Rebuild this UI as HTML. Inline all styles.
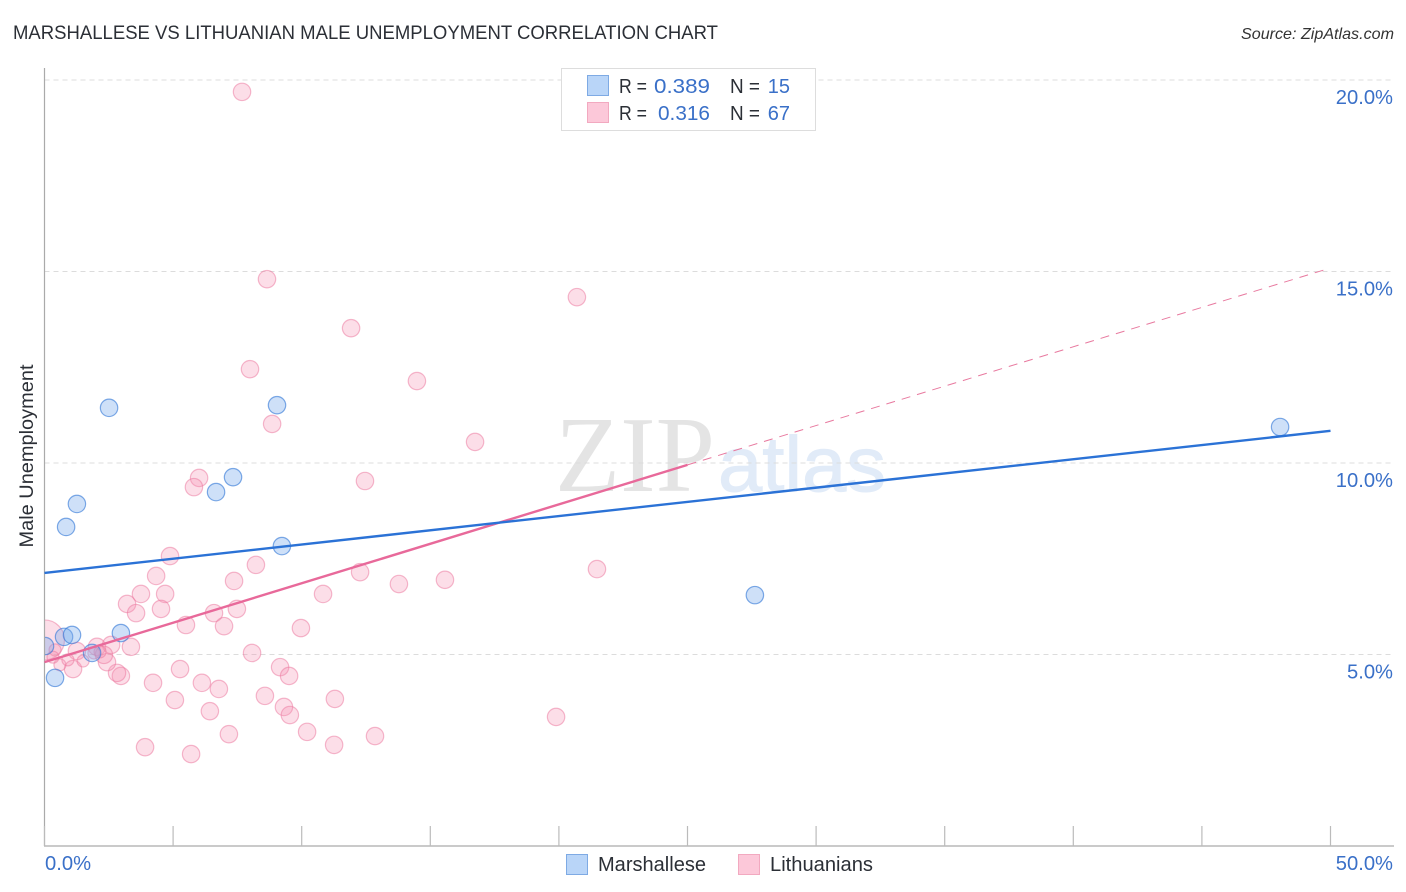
<!DOCTYPE html>
<html lang="en">
<head>
<meta charset="utf-8">
<title>Marshallese vs Lithuanian Male Unemployment Correlation Chart</title>
<style>
html,body{margin:0;padding:0;background:#fff;}
body{width:1406px;height:892px;overflow:hidden;}
svg{display:block;}
text{font-family:"Liberation Sans",sans-serif;}
</style>
</head>
<body>
<svg id="chart" width="1406" height="892" viewBox="0 0 1406 892" xmlns="http://www.w3.org/2000/svg">
  <text x="13" y="39" font-size="19" fill="#2b2f36" textLength="705" lengthAdjust="spacingAndGlyphs">MARSHALLESE VS LITHUANIAN MALE UNEMPLOYMENT CORRELATION CHART</text>
  <text x="1394" y="39" font-size="16" font-style="italic" fill="#333" text-anchor="end" textLength="153" lengthAdjust="spacingAndGlyphs">Source: ZipAtlas.com</text>

  <g>
    <text x="555" y="491" font-size="108" fill="#e4e4e4" textLength="160" lengthAdjust="spacingAndGlyphs" style="font-family:'Liberation Serif',serif">ZIP</text>
    <text x="718" y="491" font-size="78" fill="#e1ebf8" stroke="#e1ebf8" stroke-width="1" textLength="168" lengthAdjust="spacingAndGlyphs">atlas</text>
  </g>

  <g id="grid"></g>
  <g id="pink-points"></g>
  <g id="blue-points"></g>
  <rect x="0" y="60" width="44.5" height="786" fill="#ffffff"/>
  <g id="axes"></g>
  <g id="trends"></g>
  <g id="labels"></g>

  <text transform="translate(33,456) rotate(-90)" font-size="19" fill="#2b2f36" text-anchor="middle" textLength="183" lengthAdjust="spacingAndGlyphs">Male Unemployment</text>

  <g>
    <rect x="561.5" y="68.5" width="254" height="62" fill="#fff" stroke="#dddddd" stroke-width="1"/>
    <rect x="587.5" y="75.5" width="21" height="20" fill="#b9d5f8" stroke="#7eaae4" stroke-width="1"/>
    <rect x="587.5" y="102.5" width="21" height="20" fill="#fcc8d9" stroke="#f2a9c0" stroke-width="1"/>
    <g font-size="20">
      <text x="619" y="93" fill="#2b2f36" textLength="28" lengthAdjust="spacingAndGlyphs">R =</text>
      <text x="654" y="93" fill="#3a70c8" textLength="56" lengthAdjust="spacingAndGlyphs">0.389</text>
      <text x="730" y="93" fill="#2b2f36" textLength="30" lengthAdjust="spacingAndGlyphs">N =</text>
      <text x="790" y="93" fill="#3a70c8" text-anchor="end">15</text>
      <text x="619" y="120" fill="#2b2f36" textLength="28" lengthAdjust="spacingAndGlyphs">R =</text>
      <text x="658" y="120" fill="#3a70c8" textLength="52" lengthAdjust="spacingAndGlyphs">0.316</text>
      <text x="730" y="120" fill="#2b2f36" textLength="30" lengthAdjust="spacingAndGlyphs">N =</text>
      <text x="790" y="120" fill="#3a70c8" text-anchor="end">67</text>
    </g>
  </g>

  <g>
    <rect x="566.5" y="854.5" width="21" height="20" fill="#b9d5f8" stroke="#7eaae4" stroke-width="1"/>
    <text x="598" y="871" font-size="20" fill="#2b2f36" textLength="108" lengthAdjust="spacingAndGlyphs">Marshallese</text>
    <rect x="738.5" y="854.5" width="21" height="20" fill="#fcc8d9" stroke="#f2a9c0" stroke-width="1"/>
    <text x="770" y="871" font-size="20" fill="#2b2f36" textLength="103" lengthAdjust="spacingAndGlyphs">Lithuanians</text>
  </g>
</svg>
<script>
// Data values (percent)
const marshalleseX = [0.02,0.76,1.07,0.41,1.85,2.97,2.51,1.26,0.84,6.67,7.33,9.04,9.23,27.62,48.04];
const marshalleseY = [5.22,5.46,5.51,4.39,5.04,5.56,11.44,8.93,8.33,9.24,9.63,11.51,7.83,6.55,10.94];
const lithuaniansX = [0.0,7.68,8.65,20.70,11.92,7.99,14.48,8.85,16.74,12.46,6.01,5.81,4.88,8.22,21.48,12.27,4.34,7.37,13.78,15.57,3.75,4.69,10.83,3.21,3.56,4.53,6.59,7.48,5.50,6.98,9.97,8.07,3.36,5.27,4.22,5.07,6.12,6.78,6.43,7.17,3.91,5.70,8.57,9.16,9.51,9.31,9.54,10.21,11.26,11.29,12.85,19.89,2.97,2.82,2.43,2.04,2.59,2.31,1.26,1.11,0.60,1.50,0.91,0.41,1.92,2.16,0.33];
const lithuaniansY = [5.38,19.69,14.80,14.33,13.52,12.45,12.14,11.02,10.55,9.53,9.61,9.37,7.57,7.34,7.23,7.15,7.05,6.92,6.84,6.95,6.58,6.58,6.58,6.32,6.08,6.19,6.08,6.19,5.77,5.74,5.69,5.04,5.20,4.62,4.26,3.81,4.26,4.10,3.52,2.92,2.58,2.40,3.92,4.67,4.44,3.63,3.42,2.98,2.64,3.84,2.87,3.37,4.44,4.52,4.80,5.20,5.25,4.99,5.09,4.62,4.73,4.83,4.86,5.12,5.04,5.07,4.93];
const marshalleseTrendX = [0,50];
const marshalleseTrendY = [7.13,10.84];
const lithuaniansTrendX = [0,25,49.8];
const lithuaniansTrendY = [4.8,9.95,15.05];
const xTickValues = [0,5,10,15,20,25,30,35,40,45,50];
const yTickValues = [5,10,15,20];
const xTickLabels = ["0.0%","50.0%"];
const yTickLabels = ["5.0%","10.0%","15.0%","20.0%"];

const SVG_NS = 'http://www.w3.org/2000/svg';
const xScale = v => 44.5 + v * 25.72;
const yScale = v => 846 - v * 38.3;
function make(tag, attrs, parent){
  const el = document.createElementNS(SVG_NS, tag);
  for (const k in attrs) el.setAttribute(k, attrs[k]);
  parent.appendChild(el);
  return el;
}
const grid = document.getElementById('grid');
const axes = document.getElementById('axes');
const labels = document.getElementById('labels');
const trends = document.getElementById('trends');

yTickValues.forEach(v => {
  const l = make('line', {x1:44.5, x2:1394, y1:yScale(v), y2:yScale(v), stroke:'#dcdcdc', 'stroke-width':1, 'stroke-dasharray':'5 4'}, grid);
  
  
});

const yAxis = make('line', {x1:44.5, x2:44.5, y1:68, y2:846, stroke:'#aaaaaa', 'stroke-width':1.2}, axes);


const xAxis = make('line', {x1:44, x2:1394, y1:846, y2:846, stroke:'#aaaaaa', 'stroke-width':1.2}, axes);


xTickValues.forEach(v => {
  const t = make('line', {x1:xScale(v), x2:xScale(v), y1:826, y2:846, stroke:'#bbbbbb', 'stroke-width':1.2}, axes);
  
  
});

function pinkRadius(i){
  if (i === 0) return 20;
  if (i >= 60) return 6;
  return 8.7;
}
lithuaniansX.forEach((x, i) => {
  const c = make('circle', {cx:xScale(x), cy:yScale(lithuaniansY[i]), r:pinkRadius(i), fill:'rgba(246,146,178,0.3)', stroke:'rgba(236,120,160,0.52)', 'stroke-width':1.2}, document.getElementById('pink-points'));
  
  
});
marshalleseX.forEach((x, i) => {
  const c = make('circle', {cx:xScale(x), cy:yScale(marshalleseY[i]), r:8.7, fill:'rgba(120,170,235,0.36)', stroke:'rgba(50,120,215,0.62)', 'stroke-width':1.2}, document.getElementById('blue-points'));
  
  
});

const pinkDash = make('line', {x1:xScale(lithuaniansTrendX[1]), y1:yScale(lithuaniansTrendY[1]), x2:xScale(lithuaniansTrendX[2]), y2:yScale(lithuaniansTrendY[2]), stroke:'#e8799f', 'stroke-width':1, 'stroke-dasharray':'9 7'}, trends);


const pinkLine = make('line', {x1:xScale(lithuaniansTrendX[0]), y1:yScale(lithuaniansTrendY[0]), x2:xScale(lithuaniansTrendX[1]), y2:yScale(lithuaniansTrendY[1]), stroke:'#e8699a', 'stroke-width':2.4}, trends);


const blueLine = make('line', {x1:xScale(marshalleseTrendX[0]), y1:yScale(marshalleseTrendY[0]), x2:xScale(marshalleseTrendX[1]), y2:yScale(marshalleseTrendY[1]), stroke:'#2b72d6', 'stroke-width':2.4}, trends);



yTickValues.forEach((v, i) => {
  const t = make('text', {x:1393, y:yScale(v) + 24, 'font-size':20.2, fill:'#3a70c8', 'text-anchor':'end'}, labels);
  t.textContent = yTickLabels[i];
  
  
});
const x0 = make('text', {x:45, y:870, 'font-size':20.2, fill:'#3a70c8'}, labels);
x0.textContent = xTickLabels[0];


const x1 = make('text', {x:1393, y:870, 'font-size':20.2, fill:'#3a70c8', 'text-anchor':'end'}, labels);
x1.textContent = xTickLabels[1];


</script>
</body>
</html>
